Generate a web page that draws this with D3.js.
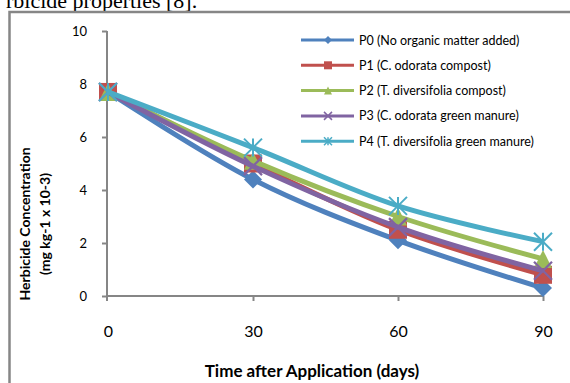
<!DOCTYPE html>
<html>
<head>
<meta charset="utf-8">
<script src="https://cdn.jsdelivr.net/npm/d3@7"></script>
<style>
  body { margin: 0; background: #fff; }
  svg { display: block; }
</style>
</head>
<body>
<div id="chart"></div>
<script>
// data
const days = [0, 30, 60, 90];
const seriesNames = [
    "P0 (No organic matter added)",
    "P1 (C. odorata compost)",
    "P2 (T. diversifolia compost)",
    "P3 (C. odorata green manure)",
    "P4 (T. diversifolia green manure)"
];
const p0 = [7.7, 4.4, 2.1, 0.3];
const p1 = [7.7, 5.0, 2.5, 0.8];
const p2 = [7.7, 5.1, 3.0, 1.4];
const p3 = [7.7, 4.9, 2.6, 0.95];
const p4 = [7.7, 5.6, 3.4, 2.05];
const yTicks = [0, 2, 4, 6, 8, 10];

const colors = ["#4f81bd", "#c0504d", "#9bbb59", "#8064a2", "#4bacc6"];
const shapes = ["diamond", "square", "triangle", "x", "star"];
const allSeries = [p0, p1, p2, p3, p4];

const width = 570, height = 383;
const font = "Lato, 'Open Sans', sans-serif";

const svg = d3.select("#chart").append("svg")
    .attr("width", width)
    .attr("height", height);

// bit of the surrounding page text above the figure
svg.append("text")
    .attr("x", 6)
    .attr("y", 8)
    .style("font", "22px 'Liberation Serif', 'Times New Roman', serif")
    .attr("fill", "#000")
    .text("rbicide properties [8].");

// chart frame
svg.append("path")
    .attr("d", "M9.5,390V12H575")
    .attr("fill", "none")
    .attr("stroke", "#868686")
    .attr("stroke-width", 2.5);

const x = d3.scaleLinear().domain([0, 90]).range([108, 543]);
const y = d3.scaleLinear().domain([0, 10]).range([296, 31]);

// y axis
const yAxis = svg.append("g")
    .attr("transform", "translate(107,0)")
    .call(d3.axisLeft(y).tickValues(yTicks).tickSize(5).tickPadding(15));
yAxis.select(".domain").attr("d", "M0,301V31");

// x axis
const xAxis = svg.append("g")
    .attr("transform", "translate(0,296)")
    .call(d3.axisBottom(x).tickValues(days).tickSize(5).tickPadding(25));
xAxis.select(".domain").attr("d", "M107,0H543");
xAxis.selectAll(".tick").filter(d => d === 0).select("line").remove();

svg.selectAll(".domain, .tick line")
    .attr("stroke", "#868686")
    .attr("stroke-width", 2);
yAxis.selectAll("text").style("font", "13px " + font).attr("fill", "#000");
xAxis.selectAll("text").style("font", "16px " + font).attr("fill", "#000");

// axis titles
svg.append("text")
    .attr("x", 312)
    .attr("y", 377)
    .attr("text-anchor", "middle")
    .style("font", "bold 17px " + font)
    .text("Time after Application (days)");

const yTitle = svg.append("text")
    .attr("transform", "translate(0,224) rotate(-90)")
    .attr("text-anchor", "middle")
    .style("font", "bold 14px " + font);
yTitle.append("tspan").attr("x", 0).attr("y", 30).text("Herbicide Concentration");
yTitle.append("tspan").attr("x", 0).attr("y", 50).text("(mg kg-1 x 10-3)");

function marker(g, shape, color, s) {
    // s = overall marker size in px
    const h = s / 2;
    if (shape === "diamond") {
        g.append("path").attr("d", `M0,${-h}L${h},0L0,${h}L${-h},0Z`).attr("fill", color);
    } else if (shape === "square") {
        g.append("rect").attr("x", -h).attr("y", -h).attr("width", s).attr("height", s).attr("fill", color);
    } else if (shape === "triangle") {
        g.append("path").attr("d", `M0,${-h}L${h},${h}L${-h},${h}Z`).attr("fill", color);
    } else if (shape === "x") {
        g.append("path").attr("d", `M${-h},${-h}L${h},${h}M${h},${-h}L${-h},${h}`)
            .attr("stroke", color).attr("stroke-width", Math.max(1.5, s / 8));
    } else {
        g.append("path").attr("d", `M${-h},${-h}L${h},${h}M${h},${-h}L${-h},${h}M0,${-h}V${h}`)
            .attr("stroke", color).attr("stroke-width", Math.max(1.5, s / 9));
    }
}

const line = d3.line()
    .x((d, i) => x(days[i]))
    .y(d => y(d))
    .curve(d3.curveCatmullRom);

allSeries.forEach((vals, k) => {
    const g = svg.append("g");
    g.append("path")
        .datum(vals)
        .attr("d", line)
        .attr("fill", "none")
        .attr("stroke", colors[k])
        .attr("stroke-width", 5)
        .attr("stroke-linejoin", "round");
    vals.forEach((v, i) => {
        const m = g.append("g").attr("transform", `translate(${x(days[i])},${y(v)})`);
        marker(m, shapes[k], colors[k], 18);
    });
});

// legend
const legend = svg.append("g");
seriesNames.forEach((name, k) => {
    const ly = 40 + k * 25.3;
    const row = legend.append("g").attr("transform", `translate(0,${ly})`);
    row.append("line")
        .attr("x1", 301).attr("x2", 354)
        .attr("stroke", colors[k])
        .attr("stroke-width", 3);
    const m = row.append("g").attr("transform", "translate(328,0)");
    marker(m, shapes[k], colors[k], 8);
    row.append("text")
        .attr("x", 359)
        .attr("y", 4.5)
        .style("font", "12.5px " + font)
        .text(name);
});
</script>
</body>
</html>
